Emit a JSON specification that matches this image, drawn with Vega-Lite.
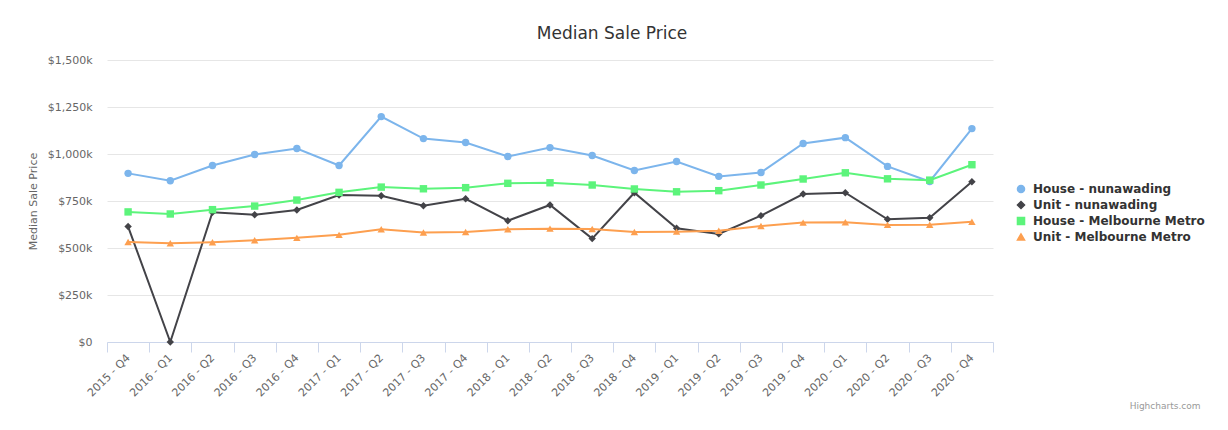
{
  "$schema": "https://vega.github.io/schema/vega-lite/v6.json",
  "width": 886,
  "height": 282,
  "autosize": {"type": "none"},
  "padding": {"left": 107, "top": 60, "right": 235, "bottom": 88},
  "background": "#ffffff",
  "title": {"text": "Median Sale Price", "font": "DejaVu Sans", "fontSize": 17, "fontWeight": "normal", "color": "#333333", "anchor": "middle", "frame": "group", "offset": 11, "dx": 62},
  "data": {"values": [
    {"q":"2015 - Q4","s":"House - nunawading","p":897000},
    {"q":"2016 - Q1","s":"House - nunawading","p":858000},
    {"q":"2016 - Q2","s":"House - nunawading","p":939000},
    {"q":"2016 - Q3","s":"House - nunawading","p":997000},
    {"q":"2016 - Q4","s":"House - nunawading","p":1029000},
    {"q":"2017 - Q1","s":"House - nunawading","p":939000},
    {"q":"2017 - Q2","s":"House - nunawading","p":1199000},
    {"q":"2017 - Q3","s":"House - nunawading","p":1082000},
    {"q":"2017 - Q4","s":"House - nunawading","p":1061000},
    {"q":"2018 - Q1","s":"House - nunawading","p":987000},
    {"q":"2018 - Q2","s":"House - nunawading","p":1034000},
    {"q":"2018 - Q3","s":"House - nunawading","p":992000},
    {"q":"2018 - Q4","s":"House - nunawading","p":912000},
    {"q":"2019 - Q1","s":"House - nunawading","p":960000},
    {"q":"2019 - Q2","s":"House - nunawading","p":881000},
    {"q":"2019 - Q3","s":"House - nunawading","p":902000},
    {"q":"2019 - Q4","s":"House - nunawading","p":1056000},
    {"q":"2020 - Q1","s":"House - nunawading","p":1087000},
    {"q":"2020 - Q2","s":"House - nunawading","p":934000},
    {"q":"2020 - Q3","s":"House - nunawading","p":854000},
    {"q":"2020 - Q4","s":"House - nunawading","p":1135000},
    {"q":"2015 - Q4","s":"Unit - nunawading","p":614000},
    {"q":"2016 - Q1","s":"Unit - nunawading","p":0},
    {"q":"2016 - Q2","s":"Unit - nunawading","p":690000},
    {"q":"2016 - Q3","s":"Unit - nunawading","p":677000},
    {"q":"2016 - Q4","s":"Unit - nunawading","p":702000},
    {"q":"2017 - Q1","s":"Unit - nunawading","p":782000},
    {"q":"2017 - Q2","s":"Unit - nunawading","p":778000},
    {"q":"2017 - Q3","s":"Unit - nunawading","p":725000},
    {"q":"2017 - Q4","s":"Unit - nunawading","p":762000},
    {"q":"2018 - Q1","s":"Unit - nunawading","p":645000},
    {"q":"2018 - Q2","s":"Unit - nunawading","p":729000},
    {"q":"2018 - Q3","s":"Unit - nunawading","p":550000},
    {"q":"2018 - Q4","s":"Unit - nunawading","p":794000},
    {"q":"2019 - Q1","s":"Unit - nunawading","p":605000},
    {"q":"2019 - Q2","s":"Unit - nunawading","p":575000},
    {"q":"2019 - Q3","s":"Unit - nunawading","p":672000},
    {"q":"2019 - Q4","s":"Unit - nunawading","p":787000},
    {"q":"2020 - Q1","s":"Unit - nunawading","p":794000},
    {"q":"2020 - Q2","s":"Unit - nunawading","p":653000},
    {"q":"2020 - Q3","s":"Unit - nunawading","p":661000},
    {"q":"2020 - Q4","s":"Unit - nunawading","p":852000},
    {"q":"2015 - Q4","s":"House - Melbourne Metro","p":692000},
    {"q":"2016 - Q1","s":"House - Melbourne Metro","p":681000},
    {"q":"2016 - Q2","s":"House - Melbourne Metro","p":704000},
    {"q":"2016 - Q3","s":"House - Melbourne Metro","p":723000},
    {"q":"2016 - Q4","s":"House - Melbourne Metro","p":755000},
    {"q":"2017 - Q1","s":"House - Melbourne Metro","p":796000},
    {"q":"2017 - Q2","s":"House - Melbourne Metro","p":824000},
    {"q":"2017 - Q3","s":"House - Melbourne Metro","p":815000},
    {"q":"2017 - Q4","s":"House - Melbourne Metro","p":821000},
    {"q":"2018 - Q1","s":"House - Melbourne Metro","p":844000},
    {"q":"2018 - Q2","s":"House - Melbourne Metro","p":847000},
    {"q":"2018 - Q3","s":"House - Melbourne Metro","p":835000},
    {"q":"2018 - Q4","s":"House - Melbourne Metro","p":814000},
    {"q":"2019 - Q1","s":"House - Melbourne Metro","p":799000},
    {"q":"2019 - Q2","s":"House - Melbourne Metro","p":805000},
    {"q":"2019 - Q3","s":"House - Melbourne Metro","p":835000},
    {"q":"2019 - Q4","s":"House - Melbourne Metro","p":867000},
    {"q":"2020 - Q1","s":"House - Melbourne Metro","p":900000},
    {"q":"2020 - Q2","s":"House - Melbourne Metro","p":868000},
    {"q":"2020 - Q3","s":"House - Melbourne Metro","p":861000},
    {"q":"2020 - Q4","s":"House - Melbourne Metro","p":943000},
    {"q":"2015 - Q4","s":"Unit - Melbourne Metro","p":532000},
    {"q":"2016 - Q1","s":"Unit - Melbourne Metro","p":525000},
    {"q":"2016 - Q2","s":"Unit - Melbourne Metro","p":531000},
    {"q":"2016 - Q3","s":"Unit - Melbourne Metro","p":541000},
    {"q":"2016 - Q4","s":"Unit - Melbourne Metro","p":554000},
    {"q":"2017 - Q1","s":"Unit - Melbourne Metro","p":570000},
    {"q":"2017 - Q2","s":"Unit - Melbourne Metro","p":600000},
    {"q":"2017 - Q3","s":"Unit - Melbourne Metro","p":582000},
    {"q":"2017 - Q4","s":"Unit - Melbourne Metro","p":585000},
    {"q":"2018 - Q1","s":"Unit - Melbourne Metro","p":600000},
    {"q":"2018 - Q2","s":"Unit - Melbourne Metro","p":603000},
    {"q":"2018 - Q3","s":"Unit - Melbourne Metro","p":601000},
    {"q":"2018 - Q4","s":"Unit - Melbourne Metro","p":585000},
    {"q":"2019 - Q1","s":"Unit - Melbourne Metro","p":587000},
    {"q":"2019 - Q2","s":"Unit - Melbourne Metro","p":592000},
    {"q":"2019 - Q3","s":"Unit - Melbourne Metro","p":617000},
    {"q":"2019 - Q4","s":"Unit - Melbourne Metro","p":635000},
    {"q":"2020 - Q1","s":"Unit - Melbourne Metro","p":637000},
    {"q":"2020 - Q2","s":"Unit - Melbourne Metro","p":623000},
    {"q":"2020 - Q3","s":"Unit - Melbourne Metro","p":624000},
    {"q":"2020 - Q4","s":"Unit - Melbourne Metro","p":640000}
  ]},
  "config": {
    "view": {"stroke": null},
    "font": "DejaVu Sans"
  },
  "encoding": {
    "x": {"field": "q", "type": "ordinal", "title": "Highcharts.com",
      "scale": {"paddingInner": 0, "paddingOuter": 0},
      "axis": {"tickBand": "extent", "labelAngle": -45, "labelAlign": "right", "labelBaseline": "middle",
        "labelFont": "DejaVu Sans", "labelFontSize": 11, "labelColor": "#666666", "labelPadding": 4,
        "domainColor": "#ccd6eb", "tickColor": "#ccd6eb", "tickSize": 10, "grid": false,
        "titleFont": "DejaVu Sans", "titleFontSize": 9, "titleFontWeight": "normal", "titleColor": "#999999",
        "titleAnchor": "end", "titleAlign": "right", "titleX": 1093, "titleY": 63, "titleBaseline": "middle"}},
    "y": {"field": "p", "type": "quantitative", "title": "Median Sale Price",
      "scale": {"domain": [0, 1500000], "nice": false},
      "axis": {"values": [0, 250000, 500000, 750000, 1000000, 1250000, 1500000],
        "labelExpr": "datum.value == 0 ? '$0' : '$' + format(datum.value / 1000, ',') + 'k'",
        "domain": false, "ticks": false, "gridColor": "#e6e6e6", "gridWidth": 1,
        "labelFont": "DejaVu Sans", "labelFontSize": 11, "labelColor": "#666666", "labelPadding": 15,
        "titleFont": "DejaVu Sans", "titleFontSize": 11, "titleFontWeight": "normal", "titleColor": "#666666", "titlePadding": 9}},
    "color": {"field": "s", "type": "nominal", "title": null,
      "scale": {"domain": ["House - nunawading", "Unit - nunawading", "House - Melbourne Metro", "Unit - Melbourne Metro"],
        "range": ["#7cb5ec", "#434348", "#5cf47b", "#fd9f4f"]},
      "legend": {"orient": "none", "legendX": 908, "legendY": 123, "labelFont": "DejaVu Sans", "labelFontSize": 12,
        "labelFontWeight": "bold", "labelColor": "#333333", "labelLimit": 300, "symbolSize": 50, "rowPadding": 2, "labelOffset": 6}}
  },
  "layer": [
    {"mark": {"type": "line", "strokeWidth": 2}, "encoding": {"detail": {"field": "s"}}},
    {"mark": {"type": "point", "filled": true, "opacity": 1, "size": 55},
      "encoding": {"shape": {"field": "s", "type": "nominal",
        "scale": {"domain": ["House - nunawading", "Unit - nunawading", "House - Melbourne Metro", "Unit - Melbourne Metro"],
          "range": ["circle", "diamond", "square", "triangle-up"]}, "legend": null}}}
  ]
}
